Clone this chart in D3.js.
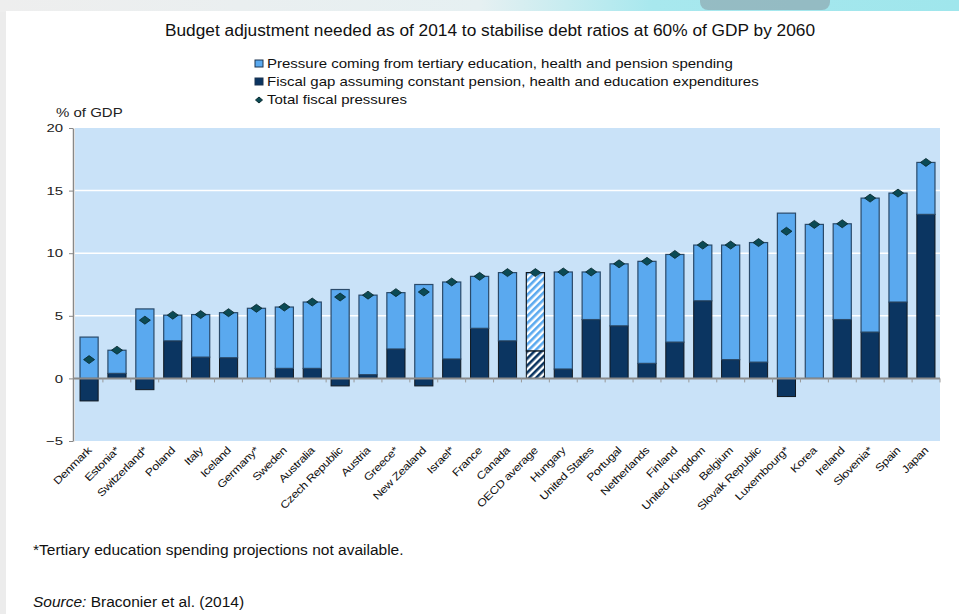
<!DOCTYPE html>
<html>
<head>
<meta charset="utf-8">
<script src="https://cdn.jsdelivr.net/npm/d3@7"></script>
<style>
  body { margin: 0; background: #ececec; }
  svg { display: block; font-family: "Liberation Sans", Arial, sans-serif; }
</style>
</head>
<body>
<svg id="plot" width="959" height="614"></svg>
<script>
// data (% of GDP)
const countries = ['Denmark', 'Estonia*', 'Switzerland*', 'Poland', 'Italy', 'Iceland', 'Germany*', 'Sweden',
  'Australia', 'Czech Republic', 'Austria', 'Greece*', 'New Zealand', 'Israel*', 'France', 'Canada',
  'OECD average', 'Hungary', 'United States', 'Portugal', 'Netherlands', 'Finland', 'United Kingdom',
  'Belgium', 'Slovak Republic', 'Luxembourg*', 'Korea', 'Ireland', 'Slovenia*', 'Spain', 'Japan'];

// fiscal gap assuming constant pension, health and education expenditures
const fiscalGap = [-1.8, 0.4, -0.9, 3.0, 1.7, 1.65, 0, 0.8, 0.8, -0.6, 0.3, 2.35, -0.6, 1.55, 4.0, 3.0,
  2.2, 0.75, 4.7, 4.2, 1.2, 2.9, 6.2, 1.5, 1.3, -1.45, 0, 4.7, 3.7, 6.1, 13.1];

// pressure coming from tertiary education, health and pension spending
const pressure = [3.3, 1.85, 5.55, 2.05, 3.4, 3.6, 5.6, 4.9, 5.3, 7.1, 6.35, 4.5, 7.5, 6.15, 4.15, 5.45,
  6.25, 7.75, 3.8, 4.95, 8.15, 7.0, 4.45, 9.15, 9.55, 13.2, 12.3, 7.65, 10.7, 8.7, 4.15];

// total fiscal pressures (diamonds)
const total = [1.5, 2.25, 4.65, 5.05, 5.1, 5.25, 5.6, 5.7, 6.1, 6.5, 6.65, 6.85, 6.9, 7.7, 8.15, 8.45,
  8.45, 8.5, 8.5, 9.15, 9.35, 9.9, 10.65, 10.65, 10.85, 11.75, 12.3, 12.35, 14.4, 14.8, 17.25];

const yTicks = [-5, 0, 5, 10, 15, 20];

const legendLabels = ['Pressure coming from tertiary education, health and pension spending',
  'Fiscal gap assuming constant pension, health and education expenditures',
  'Total fiscal pressures'];

const lightBlue = '#5aa9ef';
const darkBlue = '#0b3561';
const bgBlue = '#c9e2f8';
const diamondCol = '#0b4a54';

const plot = d3.select('#plot');

// backdrop: grey page, blurred top strip, white card
const defs = plot.append('defs');
const topGrad = defs.append('linearGradient').attr('id', 'topGrad');
topGrad.append('stop').attr('offset', '0%').attr('stop-color', '#eeeeee');
topGrad.append('stop').attr('offset', '50%').attr('stop-color', '#e6f0f2');
topGrad.append('stop').attr('offset', '68%').attr('stop-color', '#a8e8ee');
topGrad.append('stop').attr('offset', '100%').attr('stop-color', '#9fe6ec');
plot.append('rect').attr('x', 0).attr('y', 0).attr('width', 959).attr('height', 12).attr('fill', 'url(#topGrad)');
plot.append('rect').attr('x', 700).attr('y', -10).attr('width', 130).attr('height', 20).attr('rx', 8)
  .attr('fill', '#8a9ea6').attr('opacity', 0.6);
plot.append('rect').attr('x', 6).attr('y', 11).attr('width', 953).attr('height', 603).attr('fill', '#ffffff');

// hatch patterns for the OECD average bar
function hatch(id, col) {
  const p = defs.append('pattern').attr('id', id).attr('patternUnits', 'userSpaceOnUse')
    .attr('width', 5).attr('height', 5).attr('patternTransform', 'rotate(45)');
  p.append('rect').attr('width', 5).attr('height', 5).attr('fill', '#ffffff');
  p.append('rect').attr('width', 2.6).attr('height', 5).attr('fill', col);
}
hatch('hatchLight', lightBlue);
hatch('hatchDark', darkBlue);

const plotLeft = 75, plotRight = 940, plotTop = 128, plotBottom = 441;

const xScale = d3.scaleBand()
  .domain(countries)
  .range([plotLeft, plotRight])
  .paddingInner(0.35)
  .paddingOuter(0.18);

const xTick = d3.scaleBand().domain(countries).range([plotLeft, plotRight]);

const yScale = d3.scaleLinear()
  .domain([-5, 20])
  .range([plotBottom, plotTop]);

// plot background
plot.append('rect')
  .attr('x', plotLeft).attr('y', plotTop)
  .attr('width', plotRight - plotLeft).attr('height', plotBottom - plotTop)
  .attr('fill', bgBlue);

// gridlines
plot.append('g')
  .selectAll('line')
  .data(yTicks.filter(d => d > 0 && d < 20))
  .join('line')
  .attr('x1', plotLeft).attr('x2', plotRight)
  .attr('y1', d => yScale(d)).attr('y2', d => yScale(d))
  .attr('stroke', '#ffffff').attr('stroke-width', 1.5);

// title
plot.append('text')
  .attr('x', 490).attr('y', 36)
  .attr('text-anchor', 'middle')
  .style('font-size', '17.3px')
  .attr('fill', '#111')
  .text('Budget adjustment needed as of 2014 to stabilise debt ratios at 60% of GDP by 2060');

// legend (small text in the original is stretched sideways)
const legend = plot.append('g').attr('transform', 'translate(255, 64)');
legendLabels.forEach((lab, i) => {
  const g = legend.append('g').attr('transform', `translate(0, ${i * 18})`);
  if (i < 2) {
    g.append('rect').attr('x', 0).attr('y', -4).attr('width', 8).attr('height', 7)
      .attr('fill', i === 0 ? lightBlue : darkBlue)
      .attr('stroke', '#1d3550').attr('stroke-width', 1);
  } else {
    g.append('path').attr('d', 'M0.5,0 L4,-3 L7.5,0 L4,3 Z').attr('fill', diamondCol).attr('stroke', '#0a2a30');
  }
  g.append('text')
    .attr('transform', 'translate(12, 4) scale(1.2, 1)')
    .style('font-size', '12.5px').attr('fill', '#111')
    .text(lab);
});

// unit label
plot.append('text')
  .attr('transform', 'translate(56, 117) scale(1.25, 1)')
  .style('font-size', '12px').attr('fill', '#222')
  .text('% of GDP');

// stacked parts
const bars = plot.append('g');
const isOecd = d => d === 'OECD average';

countries.forEach((c, i) => {
  const x = xScale(c), w = xScale.bandwidth();
  const g = fiscalGap[i], p = pressure[i];
  const base = Math.max(g, 0);
  // gap segment
  bars.append('rect')
    .attr('x', x).attr('width', w)
    .attr('y', yScale(Math.max(g, 0))).attr('height', Math.abs(yScale(g) - yScale(0)))
    .attr('fill', isOecd(c) ? 'url(#hatchDark)' : darkBlue)
    .attr('stroke', '#101820').attr('stroke-width', 1);
  // pressure segment
  bars.append('rect')
    .attr('x', x).attr('width', w)
    .attr('y', yScale(base + p)).attr('height', yScale(base) - yScale(base + p))
    .attr('fill', isOecd(c) ? 'url(#hatchLight)' : lightBlue)
    .attr('stroke', isOecd(c) ? '#101820' : '#2a4a6a').attr('stroke-width', 1.2);
});

// y axis
const yAxis = d3.axisLeft(yScale)
  .tickValues(yTicks)
  .tickSizeInner(4)
  .tickSizeOuter(0)
  .tickFormat(d3.format('d'));

const yG = plot.append('g')
  .attr('transform', `translate(${plotLeft - 2}, 0)`)
  .call(yAxis);
yG.select('.domain').attr('stroke', '#888').attr('stroke-width', 1.5);
yG.selectAll('.tick line').attr('stroke', '#888');
yG.selectAll('.tick text')
  .attr('x', 0)
  .attr('transform', 'translate(-10, 0) scale(1.3, 1)')
  .style('font-size', '11.5px').attr('fill', '#222')
  .style('font-family', '"Liberation Sans", Arial, sans-serif');

// zero line with band ticks
plot.append('line')
  .attr('x1', plotLeft - 2).attr('x2', plotRight)
  .attr('y1', yScale(0)).attr('y2', yScale(0))
  .attr('stroke', '#8a8a8a').attr('stroke-width', 2);

plot.append('g')
  .selectAll('line')
  .data(countries.slice(1).concat(['__end']))
  .join('line')
  .attr('x1', d => d === '__end' ? plotRight : xTick(d))
  .attr('x2', d => d === '__end' ? plotRight : xTick(d))
  .attr('y1', yScale(0)).attr('y2', yScale(0) + 4)
  .attr('stroke', '#999');

// diamonds for total pressure
plot.append('g')
  .selectAll('path')
  .data(countries)
  .join('path')
  .attr('transform', (d, i) => `translate(${xScale(d) + xScale.bandwidth() / 2}, ${yScale(total[i])})`)
  .attr('d', 'M-5.5,0 L0,-4 L5.5,0 L0,4 Z')
  .attr('fill', diamondCol)
  .attr('stroke', '#06262b').attr('stroke-width', 0.8);

// category labels, rotated
plot.append('g')
  .selectAll('text')
  .data(countries)
  .join('text')
  .attr('transform', d => `translate(${xScale(d) + xScale.bandwidth() / 2 + 3}, ${plotBottom + 10}) rotate(-45) scale(1.2, 1)`)
  .attr('text-anchor', 'end')
  .style('font-size', '10.5px')
  .style('letter-spacing', '-0.3px')
  .attr('fill', '#111')
  .text(d => d);

// notes
plot.append('text')
  .attr('x', 33).attr('y', 555)
  .style('font-size', '15.5px').attr('fill', '#111')
  .text('*Tertiary education spending projections not available.');

const src = plot.append('text')
  .attr('x', 33).attr('y', 607)
  .style('font-size', '15.5px').attr('fill', '#111');
src.append('tspan').style('font-style', 'italic').text('Source:');
src.append('tspan').text(' Braconier et al. (2014)');
</script>
</body>
</html>
